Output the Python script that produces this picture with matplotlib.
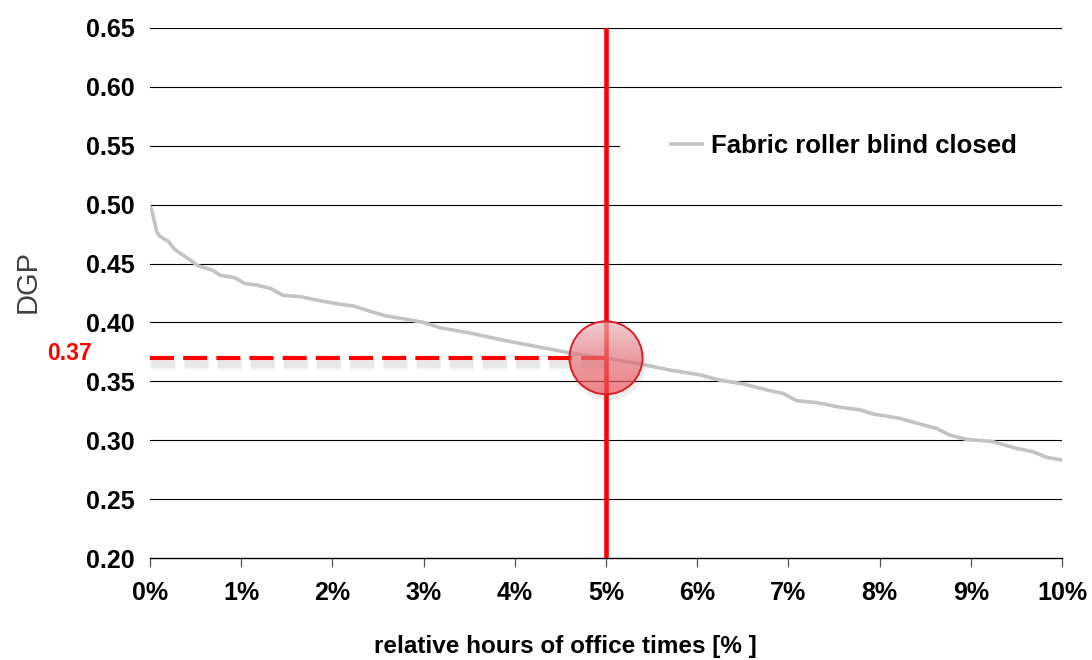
import numpy as np
import matplotlib
matplotlib.use("Agg")
import matplotlib.pyplot as plt
from matplotlib.patches import Circle, Rectangle
from matplotlib.transforms import ScaledTranslation
import matplotlib.patheffects as pe

# Relative share of office hours (%) and the corresponding daylight glare probability
pct = [0.00, 0.018, 0.073, 0.11, 0.20, 0.27, 0.44, 0.53, 0.68, 0.77, 0.93, 1.04,
       1.15, 1.32, 1.46, 1.64, 1.86, 2.08, 2.23, 2.37, 2.59, 2.81, 3.00, 3.18,
       3.51, 3.87, 4.24, 4.61, 5.01, 5.34, 5.70, 6.03, 6.25, 6.51, 6.80, 6.94,
       7.09, 7.31, 7.57, 7.79, 7.93, 8.22, 8.44, 8.62, 8.77, 8.95, 9.24, 9.50,
       9.68, 9.83, 10.0]
dgp = [0.498, 0.496, 0.477, 0.473, 0.469, 0.462, 0.453, 0.448, 0.4445, 0.440,
       0.438, 0.433, 0.432, 0.429, 0.423, 0.422, 0.4185, 0.4155, 0.414, 0.4105,
       0.4055, 0.4027, 0.400, 0.3955, 0.391, 0.385, 0.3795, 0.374, 0.3696,
       0.3653, 0.3596, 0.3555, 0.351, 0.3477, 0.342, 0.3398, 0.3336, 0.3319,
       0.328, 0.3257, 0.3223, 0.3186, 0.3138, 0.3101, 0.3044, 0.3008, 0.2988,
       0.2931, 0.2903, 0.2855, 0.2832]
series_label = "Fabric roller blind closed"

x_ticks = list(range(0, 11))
x_tick_labels = [f"{v}%" for v in x_ticks]
y_ticks = [0.20, 0.25, 0.30, 0.35, 0.40, 0.45, 0.50, 0.55, 0.60, 0.65]
y_tick_labels = [f"{v:.2f}" for v in y_ticks]

marked_pct = 5
marked_dgp = 0.37

plt.rcParams["font.family"] = ["Liberation Sans", "DejaVu Sans"]

fig = plt.figure(figsize=(10.92, 6.60), dpi=100)
ax = fig.add_axes([150 / 1092, 1 - 558 / 660, 912 / 1092, 530 / 660])

ax.set_xlim(0, 10)
ax.set_ylim(0.20, 0.65)

# horizontal grid
for v in y_ticks[1:]:
    ax.axhline(v, color="black", lw=0.8, zorder=1)

for s in ["top", "right", "left"]:
    ax.spines[s].set_visible(False)
ax.spines["bottom"].set_color("black")
ax.spines["bottom"].set_linewidth(1.0)

ax.set_xticks(x_ticks)
ax.set_xticklabels(x_tick_labels, fontsize=18, fontweight="bold")
ax.set_yticks(y_ticks)
ax.set_yticklabels(y_tick_labels, fontsize=18, fontweight="bold")
ax.tick_params(axis="x", direction="out", length=6.5, width=0.9, color="#555555", pad=10)
ax.tick_params(axis="y", length=0, pad=11)

# DGP curve
ax.plot(pct, dgp, color="#c3c3c3", lw=2.6, zorder=3, label=series_label,
        solid_joinstyle="round")

# guide lines at the chosen share, dashed one with a soft drop shadow
shadow_fx = [pe.Stroke(offset=(0.5, -4.5), linewidth=lw, foreground="#8a8a8a", alpha=a)
             for lw, a in ((9, 0.05), (7, 0.07), (5, 0.09))]
ax.plot([0, marked_pct], [marked_dgp, marked_dgp], color="#ff0000", lw=3.0,
        dashes=(5.76, 2.2), zorder=4, path_effects=shadow_fx + [pe.Normal()])
ax.axvline(marked_pct, color="#ff0000", lw=3.3, zorder=4)

# highlighted point: translucent shaded disc
disc_tr = fig.dpi_scale_trans + ScaledTranslation(marked_pct, marked_dgp, ax.transData)
r = 0.365
for dr, a in ((0.03, 0.03), (0.02, 0.04), (0.01, 0.05)):
    ax.add_patch(Circle((0.02, -0.045), r + dr, transform=disc_tr, facecolor="#6e6e6e",
                        edgecolor="none", alpha=a, zorder=5))

disc = Circle((0, 0), r, transform=disc_tr, facecolor="none",
              edgecolor="#dc1f2b", lw=1.4, zorder=7)
ax.add_patch(disc)
stops = np.array([[0.95, 0.74, 0.76],
                  [0.92, 0.45, 0.48],
                  [0.94, 0.30, 0.33]])
t = np.linspace(0, 1, 128)
grad = np.stack([np.interp(t, [0, 0.5, 1], stops[:, k]) for k in range(3)], axis=1)
grad = np.repeat(grad[:, None, :], 2, axis=1)
img = ax.imshow(grad, extent=(-r, r, -r, r), origin="upper", transform=disc_tr,
                aspect="auto", alpha=0.66, zorder=6, interpolation="bilinear")
img.set_clip_path(disc)
ax.set_xlim(0, 10)
ax.set_ylim(0.20, 0.65)

# value label for the marked level
ax.annotate(f"{marked_dgp:.2f}", xy=(0, marked_dgp), xytext=(-58, 4),
            textcoords="offset pixels", ha="right", va="center",
            color="#ff0000", fontsize=16.5, fontweight="bold", annotation_clip=False)

ax.set_xlabel("relative hours of office times [% ]", fontsize=17.5, fontweight="bold")
ax.xaxis.set_label_coords(0.456, -0.145)
ax.set_ylabel("DGP", fontsize=21, color="#404040", va="center")
ax.yaxis.set_label_coords(-0.134, 0.522)

# white backing behind the legend entry
ax.add_patch(Rectangle((0.515, 0.745), 0.52, 0.064, transform=ax.transAxes,
                       facecolor="white", edgecolor="none", zorder=2, clip_on=False))
leg = ax.legend(loc="center left", bbox_to_anchor=(0.571, 0.777), frameon=False,
                prop={"size": 18.5, "weight": "bold"}, handlelength=1.2,
                handletextpad=0.35, borderpad=0, borderaxespad=0)
leg.set_zorder(8)

fig.savefig("out.png", dpi=100)
